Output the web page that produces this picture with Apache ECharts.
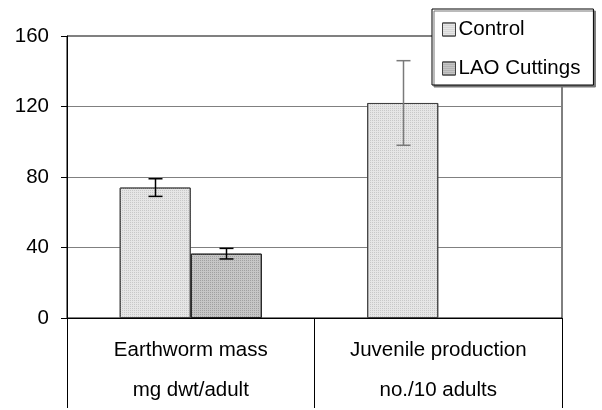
<!DOCTYPE html>
<html>
<head>
<meta charset="utf-8">
<script src="https://cdn.jsdelivr.net/npm/echarts@6/dist/echarts.min.js"></script>
<style>html,body{margin:0;padding:0;background:#fff}#c{width:602px;height:410px}</style>
</head>
<body>
<div id="c"></div>
<script>
const categories = ['Earthworm mass\nmg dwt/adult', 'Juvenile production\nno./10 adults'];
const seriesNames = ['Control', 'LAO Cuttings'];
const controlValues = [74, 122];
const laoValues = [36.5, null];
const controlErr = [5, 24];
const laoErr = [3, null];
const yMin = 0, yMax = 160, yInterval = 40;

const GAP = 0.426;
const FONT = 'Liberation Sans, Arial, sans-serif';

function decal(c) {
  return { symbol: 'rect', symbolSize: 1, dashArrayX: [1, 1], dashArrayY: [1, 1], color: c };
}

const errData = [];
controlValues.forEach((v, i) => { if (v != null && controlErr[i] != null) errData.push([i, v, controlErr[i], 0]); });
laoValues.forEach((v, i) => { if (v != null && laoErr[i] != null) errData.push([i, v, laoErr[i], 1]); });

const chart = echarts.init(document.getElementById('c'), null, { renderer: 'canvas' });
chart.setOption({
  animation: false,
  backgroundColor: '#fff',
  textStyle: { fontFamily: FONT },
  grid: { left: 67, right: 40, top: 36, bottom: 87, show: true, borderColor: '#000', borderWidth: 1, backgroundColor: 'transparent' },
  legend: {
    data: seriesNames,
    orient: 'vertical',
    left: 432, top: 9,
    padding: [10, 13, 6, 10],
    icon: 'rect',
    itemWidth: 13, itemHeight: 13, itemGap: 18,
    backgroundColor: '#fff', borderColor: '#000', borderWidth: 1,
    shadowColor: '#777', shadowOffsetX: 2, shadowOffsetY: 2, shadowBlur: 0,
    textStyle: { fontSize: 20.5, color: '#000', fontFamily: FONT, padding: [0, 0, 0, -2] },
    itemStyle: { borderColor: '#404040', borderWidth: 1 }
  },
  xAxis: {
    type: 'category',
    data: categories,
    axisLine: { lineStyle: { color: '#000', width: 1 } },
    axisTick: { show: true, length: 90, interval: 0, lineStyle: { color: '#000' } },
    axisLabel: { fontSize: 20.5, color: '#000', lineHeight: 40, margin: 12, interval: 0, fontFamily: FONT },
    splitLine: { show: false }
  },
  yAxis: {
    type: 'value',
    min: yMin, max: yMax, interval: yInterval,
    axisLine: { show: true, lineStyle: { color: '#000' } },
    axisTick: { show: true, inside: false, length: 6, lineStyle: { color: '#000' } },
    axisLabel: { fontSize: 20.5, color: '#000', margin: 18, fontFamily: FONT },
    splitLine: { show: true, lineStyle: { color: '#808080', width: 1 } }
  },
  series: [
    {
      name: seriesNames[0], type: 'bar', data: controlValues,
      barGap: '0%', barCategoryGap: (GAP * 100) + '%',
      itemStyle: { color: '#e6e6e6', borderColor: '#404040', borderWidth: 1, decal: decal('#c8c8c8') }
    },
    {
      name: seriesNames[1], type: 'bar', data: laoValues,
      barGap: '0%', barCategoryGap: (GAP * 100) + '%',
      itemStyle: { color: '#c6c6c6', borderColor: '#202020', borderWidth: 1, decal: decal('#a0a0a0') }
    },
    {
      type: 'custom', name: 'err', z: 10,
      data: errData,
      renderItem: function (params, api) {
        const ci = api.value(0), v = api.value(1), e = api.value(2), si = api.value(3);
        const band = api.size([1, 0])[0];
        const bw = band * (1 - GAP) / 2;
        const c = api.coord([ci, v]);
        const x = Math.round(c[0] + (si === 0 ? -bw / 2 : bw / 2)) + 0.5;
        const yt = api.coord([ci, v + e])[1];
        const yb = api.coord([ci, v - e])[1];
        const col = ci === 1 ? '#7a7a7a' : '#000';
        const st = { stroke: col, lineWidth: 1.5 };
        return {
          type: 'group',
          children: [
            { type: 'line', shape: { x1: x, y1: yt, x2: x, y2: yb }, style: st },
            { type: 'line', shape: { x1: x - 7, y1: yt, x2: x + 7, y2: yt }, style: st },
            { type: 'line', shape: { x1: x - 7, y1: yb, x2: x + 7, y2: yb }, style: st }
          ]
        };
      }
    }
  ]
});
</script>
</body>
</html>
